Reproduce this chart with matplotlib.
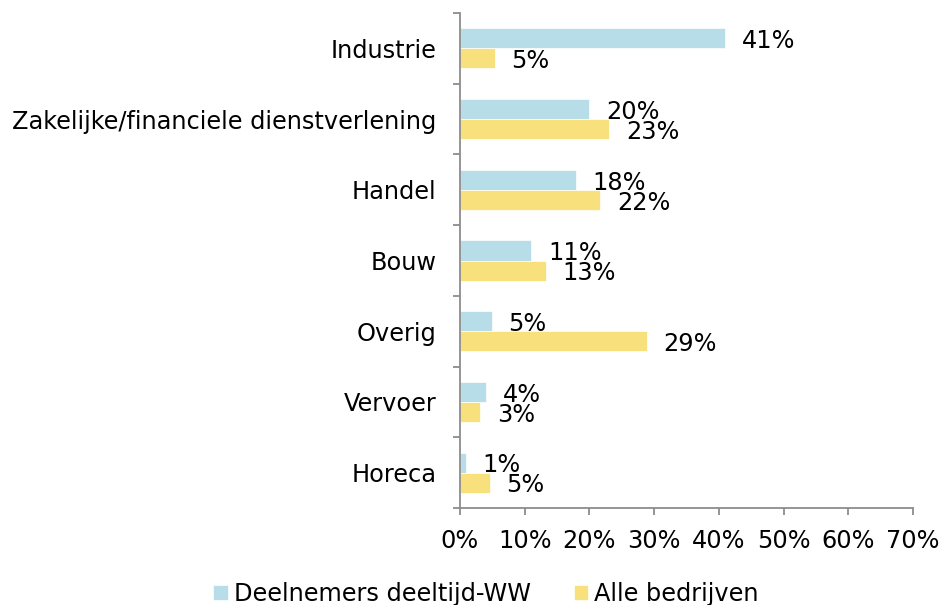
import numpy as np
import matplotlib
matplotlib.use('Agg')
import matplotlib.pyplot as plt
from matplotlib.ticker import FixedLocator, PercentFormatter

# data
categories = ['Industrie', 'Zakelijke/financiele dienstverlening', 'Handel',
              'Bouw', 'Overig', 'Vervoer', 'Horeca']
deeltijd_ww = [41.0, 20.0, 17.9, 11.0, 4.9, 4.0, 0.9]
alle_bedrijven = [5.4, 23.1, 21.7, 13.3, 28.9, 3.1, 4.6]
series_names = ['Deelnemers deeltijd-WW', 'Alle bedrijven']
x_ticks = [0, 10, 20, 30, 40, 50, 60, 70]

blue = '#B7DDE8'
yellow = '#F8E07C'
fs = 17.3

fig = plt.figure(figsize=(9.43, 6.05), dpi=100)
ax = fig.add_axes([460/943, 97/605, 453/943, 495/605])

y = np.arange(len(categories))
h = 0.283
b1 = ax.barh(y - h/2, deeltijd_ww, height=h, color=blue, edgecolor='white',
             linewidth=0.5, label=series_names[0])
b2 = ax.barh(y + h/2, alle_bedrijven, height=h, color=yellow, edgecolor='white',
             linewidth=0.5, label=series_names[1])

for bars, vals in [(b1, deeltijd_ww), (b2, alle_bedrijven)]:
    for bar, v in zip(bars, vals):
        ax.annotate(f'{round(v)}%', (v, bar.get_y() + bar.get_height()/2),
                    xytext=(12, -2), textcoords='offset points',
                    ha='left', va='center', fontsize=fs)

ax.set_xlim(0, 70)
ax.set_ylim(len(categories) - 0.5, -0.5)
ax.xaxis.set_major_locator(FixedLocator(x_ticks))
ax.xaxis.set_major_formatter(PercentFormatter(decimals=0))

ax.set_yticks(y)
ax.set_yticklabels(categories)
ax.yaxis.set_minor_locator(FixedLocator(np.arange(len(categories) + 1) - 0.5))
ax.tick_params(axis='y', which='major', length=0, pad=17, labelsize=fs)
ax.tick_params(axis='y', which='minor', length=5, width=1.3, color='#8c8c8c')
ax.tick_params(axis='x', length=5, width=1.3, color='#8c8c8c', pad=10, labelsize=fs)

for s in ['top', 'right']:
    ax.spines[s].set_visible(False)
for s in ['left', 'bottom']:
    ax.spines[s].set_color('#8c8c8c')
    ax.spines[s].set_linewidth(1.3)

fig.legend(handles=[b1, b2], labels=series_names, loc='center',
           bbox_to_anchor=(486/943, 1 - 594/605), ncol=2, frameon=False,
           fontsize=fs, handlelength=0.6, handleheight=0.55,
           handletextpad=0.25, columnspacing=1.8, borderpad=0)

fig.savefig('out.png', dpi=100)
